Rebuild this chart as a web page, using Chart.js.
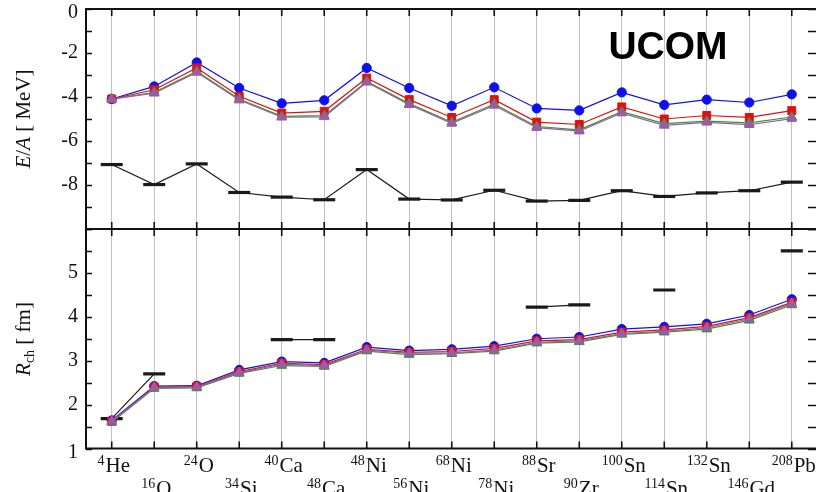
<!DOCTYPE html>
<html>
<head>
<meta charset="utf-8">
<script src="https://cdn.jsdelivr.net/npm/chart.js@4/dist/chart.umd.min.js"></script>
<style>
  body { margin: 0; background: #fff; }
  #wrap { position: relative; width: 816px; height: 492px; overflow: hidden; }
  canvas { position: absolute; left: 0; top: 0; }
</style>
</head>
<body>
<div id="wrap">
  <canvas id="energy" width="816" height="492"></canvas>
  <canvas id="radius" width="816" height="492"></canvas>
</div>
<script>
// nuclei along the x axis: [mass number, element]
const nuclei = [
  ["4", "He"], ["16", "O"], ["24", "O"], ["34", "Si"], ["40", "Ca"], ["48", "Ca"],
  ["48", "Ni"], ["56", "Ni"], ["68", "Ni"], ["78", "Ni"], ["88", "Sr"], ["90", "Zr"],
  ["100", "Sn"], ["114", "Sn"], ["132", "Sn"], ["146", "Gd"], ["208", "Pb"]
];

// binding energy per nucleon E/A [MeV]
const energyHF    = [-4.09, -3.52, -2.43, -3.59, -4.29, -4.15, -2.68, -3.59, -4.40, -3.56, -4.52, -4.61, -3.79, -4.36, -4.12, -4.25, -3.88];
const energyPT2   = [-4.09, -3.67, -2.68, -3.97, -4.73, -4.65, -3.14, -4.12, -4.93, -4.12, -5.14, -5.25, -4.45, -5.00, -4.84, -4.93, -4.62];
const energyPT3a  = [-4.09, -3.79, -2.84, -4.09, -4.88, -4.85, -3.29, -4.30, -5.15, -4.32, -5.34, -5.49, -4.67, -5.21, -5.10, -5.18, -4.91];
const energyPT3b  = [-4.10, -3.83, -2.88, -4.14, -4.92, -4.90, -3.33, -4.35, -5.20, -4.38, -5.39, -5.55, -4.73, -5.29, -5.15, -5.26, -4.98];
const energyExp   = [-7.07, -7.98, -7.04, -8.34, -8.55, -8.67, -7.30, -8.64, -8.68, -8.24, -8.73, -8.70, -8.26, -8.52, -8.36, -8.26, -7.87];

// charge radius R_ch [fm]
const radiusHF    = [1.64, 2.42, 2.43, 2.79, 2.98, 2.95, 3.31, 3.23, 3.26, 3.33, 3.50, 3.54, 3.72, 3.77, 3.84, 4.04, 4.40];
const radiusPT2   = [1.62, 2.40, 2.41, 2.75, 2.94, 2.91, 3.26, 3.19, 3.21, 3.28, 3.45, 3.48, 3.65, 3.70, 3.78, 3.98, 4.33];
const radiusPT3a  = [1.60, 2.37, 2.38, 2.71, 2.89, 2.87, 3.22, 3.14, 3.16, 3.22, 3.40, 3.43, 3.60, 3.65, 3.72, 3.92, 4.27];
const radiusPT3b  = [1.62, 2.39, 2.40, 2.73, 2.92, 2.89, 3.24, 3.17, 3.18, 3.24, 3.42, 3.45, 3.62, 3.67, 3.75, 3.95, 4.30];
const radiusExp   = [1.68, 2.70, null, null, 3.48, 3.48, null, null, null, null, 4.22, 4.27, null, 4.61, null, null, 5.50];

// tick labels on the two y axes
const energyTicks = [0, -2, -4, -6, -8];
const radiusTicks = [1, 2, 3, 4, 5];

const SERIF = '"Liberation Serif", "DejaVu Serif", serif';

function pts(values) {
  return values.map((v, i) => ({ x: i, y: v }));
}

function modelSets(hf, pt2, pt3a, pt3b, exp) {
  const common = { borderWidth: 1.2, pointBorderWidth: 1 };
  return [
    Object.assign({ label: "HF", data: pts(hf), borderColor: "#1010ee", backgroundColor: "#1010ee",
      pointStyle: "circle", pointRadius: 4.6, order: 3 }, common),
    Object.assign({ label: "MBPT2", data: pts(pt2), borderColor: "#e01010", backgroundColor: "#e01010",
      pointStyle: "rect", pointRadius: 5.6, order: 2 }, common),
    Object.assign({ label: "MBPT3a", data: pts(pt3a), borderColor: "#2e9a2e", backgroundColor: "#2e9a2e",
      pointStyle: "triangle", pointRadius: 5.6, order: 1 }, common),
    Object.assign({ label: "MBPT3b", data: pts(pt3b), borderColor: "#9a5ca6", backgroundColor: "#9a5ca6",
      pointStyle: "triangle", pointRadius: 5.6, order: 0 }, common),
    { label: "Exp", data: pts(exp), borderColor: "#1a1a1a", backgroundColor: "#1a1a1a", borderWidth: 1.2,
      pointStyle: "line", pointRadius: 11, pointBorderWidth: 3.2, spanGaps: false, order: 4 }
  ];
}

// frame, inward ticks, tick labels and titles for one panel
function framePlugin(opts) {
  return {
    id: "frame",
    afterDraw(chart) {
      const { ctx, chartArea: a, scales } = chart;
      const xs = scales.x, ys = scales.y;
      ctx.save();
      ctx.strokeStyle = "#111";

      // x ticks at top and bottom
      ctx.lineWidth = 1.6;
      nuclei.forEach((n, i) => {
        const px = xs.getPixelForValue(i);
        ctx.beginPath();
        ctx.moveTo(px, a.top); ctx.lineTo(px, a.top + 7);
        ctx.moveTo(px, a.bottom); ctx.lineTo(px, a.bottom - 7);
        ctx.stroke();
      });

      // y ticks, left and right
      for (let v = ys.min; v <= ys.max + 1e-9; v += opts.minor) {
        const py = Math.round(ys.getPixelForValue(v)) + 0.5;
        ctx.beginPath();
        ctx.moveTo(a.left, py); ctx.lineTo(a.left + 6, py);
        ctx.moveTo(808, py); ctx.lineTo(817, py);
        ctx.stroke();
      }

      // border
      ctx.lineWidth = 2;
      ctx.beginPath();
      ctx.moveTo(a.left, a.top); ctx.lineTo(a.right + 2, a.top);
      ctx.moveTo(a.left, a.bottom); ctx.lineTo(a.right + 2, a.bottom);
      ctx.moveTo(a.left, a.top - 1); ctx.lineTo(a.left, a.bottom + 1);
      ctx.stroke();

      // tick labels
      ctx.fillStyle = "#111";
      ctx.font = "20px " + SERIF;
      ctx.textAlign = "right";
      ctx.textBaseline = "middle";
      opts.ticks.forEach(v => {
        let py = ys.getPixelForValue(v);
        if (v === ys.max || v === ys.min) py += 4;
        ctx.fillText(String(v), 78, py);
      });

      // rotated axis title
      ctx.translate(23, opts.titleY);
      ctx.rotate(-Math.PI / 2);
      ctx.textAlign = "left";
      ctx.textBaseline = "alphabetic";
      const parts = opts.title;
      let w = 0;
      parts.forEach(p => { ctx.font = p.font; w += ctx.measureText(p.t).width; });
      let x = -w / 2;
      parts.forEach(p => {
        ctx.font = p.font;
        ctx.fillText(p.t, x, 7 + (p.dy || 0));
        x += ctx.measureText(p.t).width;
      });
      ctx.restore();

      if (opts.after) opts.after(chart);
    }
  };
}

function baseOptions(yMin, yMax, padTop, padBottom) {
  return {
    responsive: false,
    animation: false,
    devicePixelRatio: 1,
    layout: { autoPadding: false, padding: { top: padTop, bottom: padBottom, left: 0, right: 0 } },
    plugins: { legend: { display: false }, tooltip: { enabled: false } },
    scales: {
      x: {
        type: "linear",
        min: -0.605,
        max: 16.57,
        afterBuildTicks: (scale) => { scale.ticks = nuclei.map((n, i) => ({ value: i })); },
        afterFit: (scale) => { scale.height = 0; },
        ticks: { display: false },
        grid: { color: "#c2c2c2", lineWidth: 1, drawTicks: false },
        border: { display: false }
      },
      y: {
        min: yMin,
        max: yMax,
        afterFit: (scale) => { scale.width = 86; },
        ticks: { display: false },
        grid: { display: false },
        border: { display: false }
      }
    }
  };
}

new Chart(document.getElementById("energy"), {
  type: "line",
  data: { datasets: modelSets(energyHF, energyPT2, energyPT3a, energyPT3b, energyExp) },
  options: baseOptions(-10, 0, 9, 263),
  plugins: [framePlugin({
    minor: 1,
    ticks: energyTicks,
    titleY: 119,
    title: [
      { t: "E", font: "italic 21px " + SERIF },
      { t: "/", font: "21px " + SERIF },
      { t: "A", font: "italic 21px " + SERIF },
      { t: " [ MeV]", font: "21px " + SERIF }
    ],
    after(chart) {
      const ctx = chart.ctx;
      ctx.save();
      ctx.fillStyle = "#000";
      ctx.font = 'bold 39px "Liberation Sans", Arial, sans-serif';
      ctx.textAlign = "center";
      ctx.textBaseline = "middle";
      ctx.fillText("UCOM", 668, 48);
      ctx.restore();
    }
  })]
});

new Chart(document.getElementById("radius"), {
  type: "line",
  data: { datasets: modelSets(radiusHF, radiusPT2, radiusPT3a, radiusPT3b, radiusExp) },
  options: baseOptions(1, 6, 229, 43.5),
  plugins: [framePlugin({
    minor: 0.5,
    ticks: radiusTicks,
    titleY: 339,
    title: [
      { t: "R", font: "italic 21px " + SERIF },
      { t: "ch", font: "14px " + SERIF, dy: 4 },
      { t: " [ fm]", font: "21px " + SERIF }
    ],
    after(chart) {
      // nucleus labels with raised mass numbers, two alternating rows
      const ctx = chart.ctx;
      const xs = chart.scales.x;
      ctx.save();
      ctx.fillStyle = "#111";
      ctx.textBaseline = "alphabetic";
      ctx.textAlign = "left";
      nuclei.forEach((n, i) => {
        const base = i % 2 === 0 ? 472 : 495;
        ctx.font = "14px " + SERIF;
        const wa = ctx.measureText(n[0]).width;
        ctx.font = "21px " + SERIF;
        const we = ctx.measureText(n[1]).width;
        let x = xs.getPixelForValue(i) + 2 - (wa + we + 1) / 2;
        ctx.font = "14px " + SERIF;
        ctx.fillText(n[0], x, base - 7);
        ctx.font = "21px " + SERIF;
        ctx.fillText(n[1], x + wa + 1, base);
      });
      ctx.restore();
    }
  })]
});
</script>
</body>
</html>
